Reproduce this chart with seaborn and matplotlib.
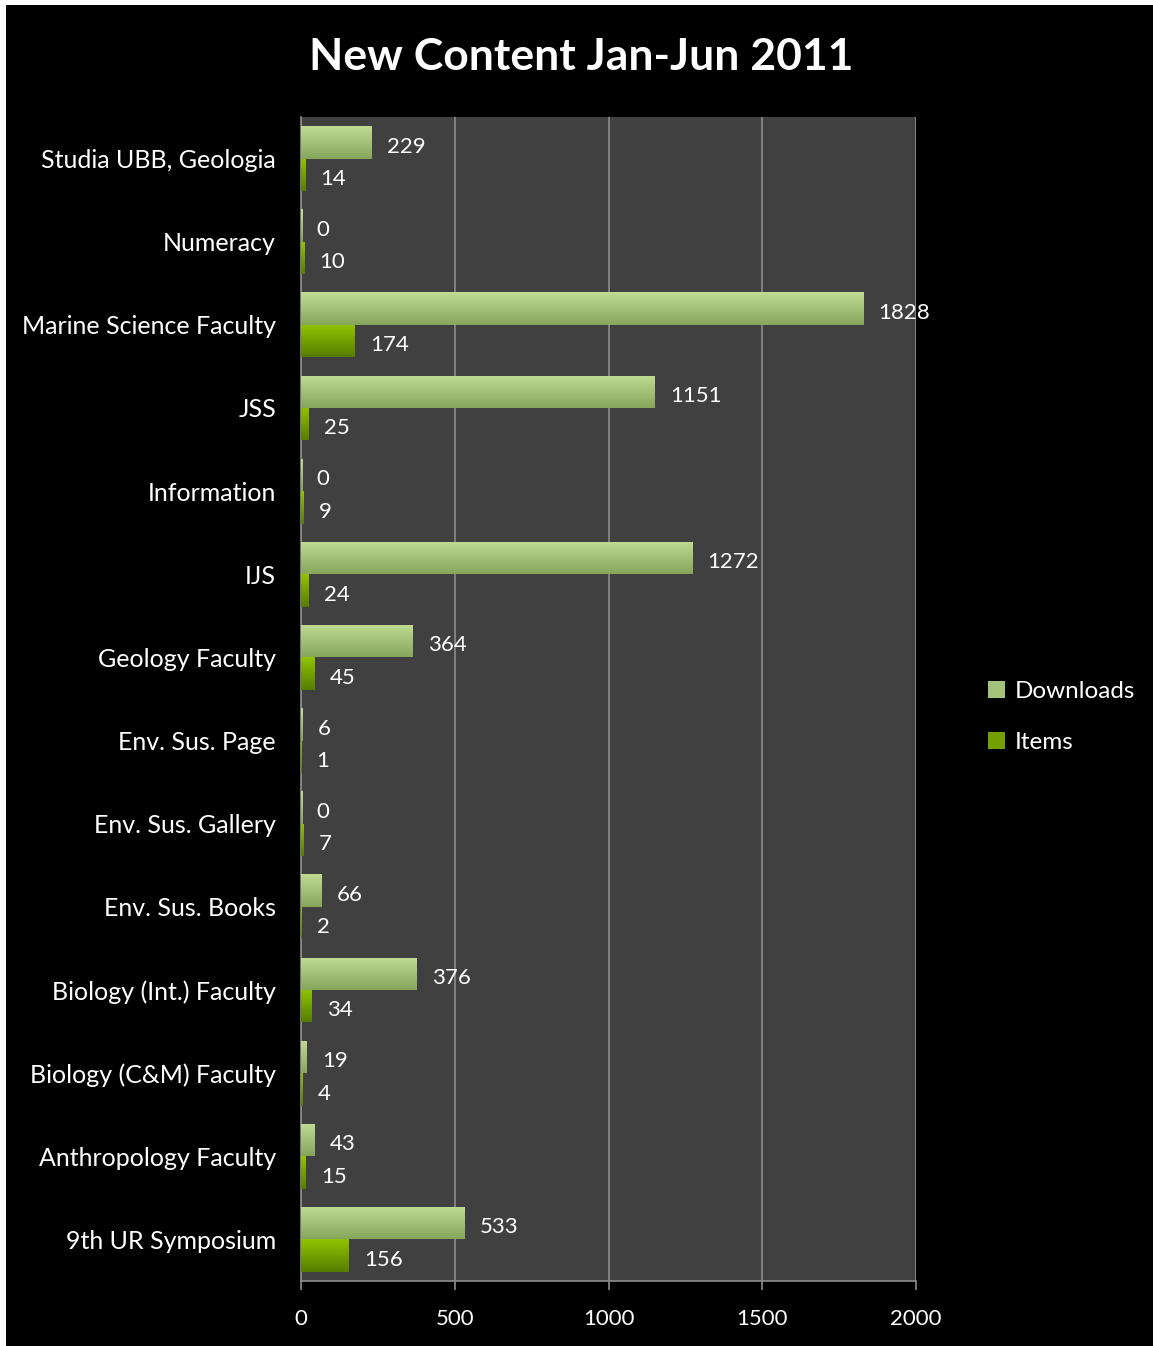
import pandas as pd
import numpy as np
import matplotlib
matplotlib.use("Agg")
import matplotlib.pyplot as plt
from matplotlib.patches import Patch, Rectangle
from matplotlib.colors import to_rgb
import seaborn as sns

categories = ["Studia UBB, Geologia", "Numeracy", "Marine Science Faculty", "JSS",
              "Information", "IJS", "Geology Faculty", "Env. Sus. Page",
              "Env. Sus. Gallery", "Env. Sus. Books", "Biology (Int.) Faculty",
              "Biology (C&M) Faculty", "Anthropology Faculty", "9th UR Symposium"]
downloads = [229, 0, 1828, 1151, 0, 1272, 364, 6, 0, 66, 376, 19, 43, 533]
items = [14, 10, 174, 25, 9, 24, 45, 1, 7, 2, 34, 4, 15, 156]
series = ["Downloads", "Items"]
x_ticks = [0, 500, 1000, 1500, 2000]

df = pd.DataFrame({
    "category": categories * 2,
    "series": ["Downloads"] * len(categories) + ["Items"] * len(categories),
    "value": downloads + items,
})

sns.set_style("dark")
plt.rcParams["font.family"] = ["Lato", "DejaVu Sans"]

# top / bottom colours of the bar gradients
grad = {"Downloads": ("#c0dc92", "#86a65c"), "Items": ("#90c400", "#557e00")}
palette = {"Downloads": "#a3c27a", "Items": "#73a000"}

fig = plt.figure(figsize=(11.53, 13.46), dpi=100, facecolor="white")
fig.patches.append(Rectangle((6 / 1153, 0), 1, 1 - 5 / 1346, transform=fig.transFigure,
                             facecolor="black", edgecolor="none", zorder=-10))
ax = fig.add_axes([301 / 1153, 65 / 1346, 615 / 1153, 1164 / 1346])
ax.set_facecolor("#404040")

sns.barplot(data=df, y="category", x="value", hue="series", hue_order=series,
            order=categories, palette=palette, orient="h", width=0.78,
            dodge=True, legend=False, ax=ax, zorder=3, linewidth=0)

# gradient fill clipped to each bar
for i, bar in enumerate(ax.patches):
    s = series[i // len(categories)]
    x0, y0 = bar.get_x(), bar.get_y()
    w, h = bar.get_width(), bar.get_height()
    if w <= 0:
        w = 4
        bar.set_width(w)
    top, bot = np.array(to_rgb(grad[s][0])), np.array(to_rgb(grad[s][1]))
    t = np.linspace(0, 1, 64)[:, None]
    col = top * (1 - t) + bot * t
    img = np.repeat(col[:, None, :], 2, axis=1)
    im = ax.imshow(img, extent=(x0, x0 + w, y0 + h, y0), origin="upper",
                   aspect="auto", zorder=4)
    im.set_clip_path(bar)

# value labels
vals = {"Downloads": downloads, "Items": items}
for bar_i, bar in enumerate(ax.patches):
    s = series[bar_i // len(categories)]
    v = vals[s][bar_i % len(categories)]
    yc = bar.get_y() + bar.get_height() / 2
    ax.annotate(str(v), (v, yc), xytext=(11, -3), textcoords="offset points",
                va="center", ha="left", color="white", fontsize=16, zorder=5)

ax.set_xlim(0, 2000)
ax.set_ylim(len(categories) - 0.5, -0.5)
ax.set_xticks(x_ticks)
ax.set_xticklabels([str(v) for v in x_ticks])
ax.grid(axis="x", color="#8c8c8c", linewidth=1.2, zorder=1)
ax.grid(axis="y", visible=False)
ax.set_axisbelow(True)
ax.set_xlabel("")
ax.set_ylabel("")

# y ticks at category boundaries
ax.set_yticks(range(len(categories)))
ax.set_yticklabels(categories)
ax.set_yticks(np.arange(-0.5, len(categories), 1), minor=True)
ax.tick_params(axis="y", which="major", length=0, pad=18, colors="white", labelsize=18)
ax.tick_params(axis="y", which="minor", length=6.5, width=1.2, color="#8c8c8c", direction="out")
ax.tick_params(axis="x", which="major", length=6.5, width=1.2, color="#8c8c8c",
               direction="out", pad=14, labelcolor="white", labelsize=16, bottom=True)

for side in ["top", "right"]:
    ax.spines[side].set_visible(False)
for side in ["left", "bottom"]:
    ax.spines[side].set_visible(True)
    ax.spines[side].set_color("#8c8c8c")
    ax.spines[side].set_linewidth(1.2)

fig.text(581 / 1153, 1 - 57 / 1346, "New Content Jan-Jun 2011", ha="center", va="center",
         color="white", fontsize=32, fontweight="bold")

handles = [Patch(facecolor=palette[s], edgecolor="none") for s in series]
fig.legend(handles, series, loc="center left", bbox_to_anchor=(966 / 1153, 1 - 717 / 1346),
           frameon=False, fontsize=17.5, labelcolor="white", handlelength=0.7,
           handleheight=0.7, handletextpad=0.4, labelspacing=1.2)

fig.savefig("out.png", dpi=100, facecolor=fig.get_facecolor())
